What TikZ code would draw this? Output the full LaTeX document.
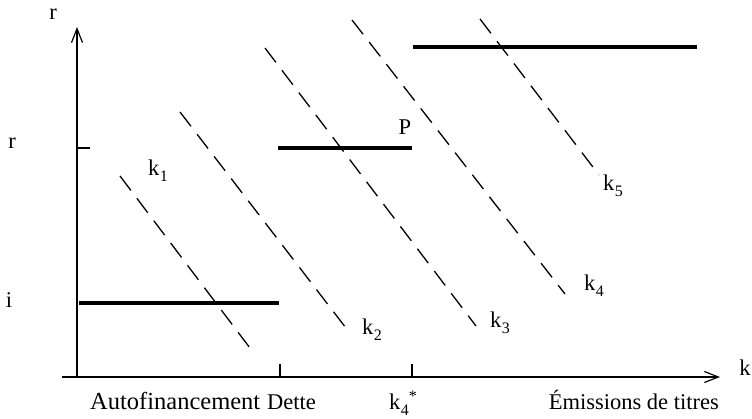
\documentclass[tikz,border=0pt]{standalone}
\usepackage{fontspec}
\setmainfont{Liberation Serif}
\usetikzlibrary{arrows.meta}
\newcommand{\ksub}[1]{k\kern0.3pt\raisebox{-6pt}{\fontsize{16}{16}\selectfont #1}}
\begin{document}
\begin{tikzpicture}[x=1pt,y=-1pt,
  axis/.style={line width=1.4pt,-{Straight Barb[length=14pt,width=11pt,line width=1.2pt]}},
  thickseg/.style={line width=4pt},
  demand/.style={line width=1.3pt,dash pattern=on 18pt off 10pt},
  lbl/.style={font=\fontsize{22.5}{26}\selectfont,inner sep=0pt},
  tickmark/.style={line width=1.2pt}]
\useasboundingbox (0,0) rectangle (752,418);
% axes
\coordinate (O) at (77,377);
\coordinate (xs) at (62,377);
\coordinate (xe) at (720,377);
\coordinate (ye) at (77,27);
\draw[axis] (xs) -- (xe);
\draw[axis] (O) -- (ye);
% ticks
\coordinate (rt0) at (77,148); \coordinate (rt1) at (90,148);
\draw[tickmark] (rt0) -- (rt1);
\coordinate (t1a) at (280,377); \coordinate (t1b) at (280,364);
\coordinate (t2a) at (412,377); \coordinate (t2b) at (412,364);
\draw[tickmark] (t1a) -- (t1b);
\draw[tickmark] (t2a) -- (t2b);
% supply steps
\coordinate (s1a) at (79,303); \coordinate (s1b) at (279,303);
\coordinate (s2a) at (278,148); \coordinate (s2b) at (412,148);
\coordinate (s3a) at (413,47); \coordinate (s3b) at (697,47);
\draw[thickseg] (s1a) -- (s1b);
\draw[thickseg] (s2a) -- (s2b);
\draw[thickseg] (s3a) -- (s3b);
% demand lines
\coordinate (d1a) at (120,176); \coordinate (d1b) at (253,352);
\coordinate (d2a) at (180,112); \coordinate (d2b) at (346,328);
\coordinate (d3a) at (265,48);  \coordinate (d3b) at (476,326);
\coordinate (d4a) at (352,20);  \coordinate (d4b) at (565,294);
\coordinate (d5a) at (480,19);  \coordinate (d5b) at (599,175);
\draw[demand] (d1a) -- (d1b);
\draw[demand] (d2a) -- (d2b);
\draw[demand] (d3a) -- (d3b);
\draw[demand] (d4a) -- (d4b);
\draw[demand] (d5a) -- (d5b);
% labels
\node[lbl] (ry) at (53,14) {r};
\node[lbl] (rl) at (12,143) {r};
\node[lbl] (il) at (9,300) {i};
\node[lbl] (kx) at (745,368) {k};
\node[lbl] (P) at (405,127) {P};
\node[lbl,anchor=base west] (k1) at (148,175) {\ksub{1}};
\node[lbl,anchor=base west] (k2) at (362,334) {\ksub{2}};
\node[lbl,anchor=base west] (k3) at (490,327) {\ksub{3}};
\node[lbl,anchor=base west] (k4) at (584,290) {\ksub{4}};
\node[lbl,anchor=base west] (k5) at (603,190) {\ksub{5}};
\node[lbl,anchor=base west] (k4s) at (389,409) {k\kern0.3pt\raisebox{-6pt}{\fontsize{16}{16}\selectfont 4}\raisebox{8pt}{\fontsize{16}{16}\selectfont *}};
\node[lbl,anchor=base west,font=\fontsize{24.5}{28}\selectfont] (auto) at (90,409) {Autofinancement};
\node[lbl,anchor=base west] (dette) at (267,409) {Dette};
\node[lbl,anchor=base east] (emis) at (719,409) {Émissions de titres};
\end{tikzpicture}
\end{document}
